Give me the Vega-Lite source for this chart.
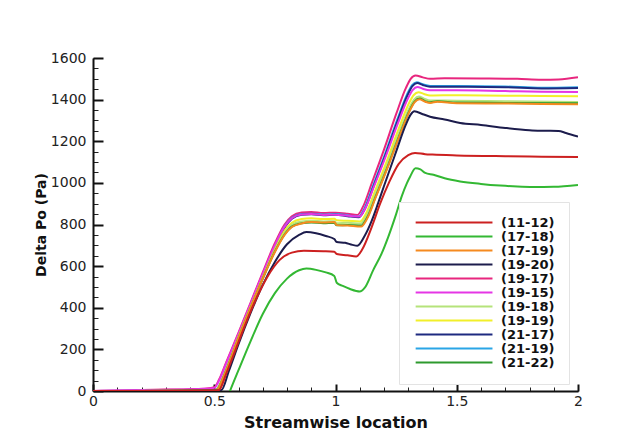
{
"$schema": "https://vega.github.io/schema/vega-lite/v6.json",
"width": 485, "height": 333,
"autosize": {"type": "none"},
"padding": {"left": 93, "top": 58, "right": 65, "bottom": 47},
"background": "white",
"config": {"view": {"stroke": null}, "font": "DejaVu Sans"},
"datasets": {
"curves": [
{"s":"(19-17)","x":0,"y":0},{"s":"(19-17)","x":0.1,"y":3},{"s":"(19-17)","x":0.2,"y":5},{"s":"(19-17)","x":0.3,"y":7},{"s":"(19-17)","x":0.4,"y":9},{"s":"(19-17)","x":0.47,"y":12},{"s":"(19-17)","x":0.5,"y":18},{"s":"(19-17)","x":0.52,"y":55},{"s":"(19-17)","x":0.55,"y":140},{"s":"(19-17)","x":0.6,"y":280},{"s":"(19-17)","x":0.65,"y":425},{"s":"(19-17)","x":0.7,"y":570},{"s":"(19-17)","x":0.75,"y":710},{"s":"(19-17)","x":0.79,"y":800},{"s":"(19-17)","x":0.82,"y":840},{"s":"(19-17)","x":0.86,"y":858},{"s":"(19-17)","x":0.9,"y":860},{"s":"(19-17)","x":0.95,"y":855},{"s":"(19-17)","x":1.0,"y":857},{"s":"(19-17)","x":1.05,"y":852},{"s":"(19-17)","x":1.09,"y":846},{"s":"(19-17)","x":1.114,"y":887},{"s":"(19-17)","x":1.15,"y":1000},{"s":"(19-17)","x":1.2,"y":1160},{"s":"(19-17)","x":1.25,"y":1330},{"s":"(19-17)","x":1.29,"y":1455},{"s":"(19-17)","x":1.31,"y":1500},{"s":"(19-17)","x":1.33,"y":1516},{"s":"(19-17)","x":1.36,"y":1507},{"s":"(19-17)","x":1.39,"y":1500},{"s":"(19-17)","x":1.45,"y":1503},{"s":"(19-17)","x":1.6,"y":1502},{"s":"(19-17)","x":1.75,"y":1500},{"s":"(19-17)","x":1.85,"y":1496},{"s":"(19-17)","x":1.92,"y":1497},{"s":"(19-17)","x":2.0,"y":1507},
{"s":"(21-19)","x":0,"y":0},{"s":"(21-19)","x":0.3,"y":2},{"s":"(21-19)","x":0.5,"y":3},{"s":"(21-19)","x":0.515,"y":15},{"s":"(21-19)","x":0.53,"y":50},{"s":"(21-19)","x":0.56,"y":140},{"s":"(21-19)","x":0.6,"y":265},{"s":"(21-19)","x":0.65,"y":410},{"s":"(21-19)","x":0.7,"y":555},{"s":"(21-19)","x":0.75,"y":695},{"s":"(21-19)","x":0.79,"y":790},{"s":"(21-19)","x":0.82,"y":832},{"s":"(21-19)","x":0.86,"y":850},{"s":"(21-19)","x":0.9,"y":852},{"s":"(21-19)","x":0.95,"y":848},{"s":"(21-19)","x":1.0,"y":850},{"s":"(21-19)","x":1.05,"y":844},{"s":"(21-19)","x":1.095,"y":838},{"s":"(21-19)","x":1.119,"y":877},{"s":"(21-19)","x":1.155,"y":987},{"s":"(21-19)","x":1.205,"y":1141},{"s":"(21-19)","x":1.255,"y":1305},{"s":"(21-19)","x":1.295,"y":1425},{"s":"(21-19)","x":1.315,"y":1469},{"s":"(21-19)","x":1.335,"y":1484},{"s":"(21-19)","x":1.36,"y":1474},{"s":"(21-19)","x":1.39,"y":1466},{"s":"(21-19)","x":1.5,"y":1466},{"s":"(21-19)","x":1.7,"y":1463},{"s":"(21-19)","x":1.85,"y":1457},{"s":"(21-19)","x":2.0,"y":1460},
{"s":"(21-17)","x":0,"y":0},{"s":"(21-17)","x":0.5,"y":2},{"s":"(21-17)","x":0.52,"y":12},{"s":"(21-17)","x":0.535,"y":50},{"s":"(21-17)","x":0.56,"y":125},{"s":"(21-17)","x":0.6,"y":250},{"s":"(21-17)","x":0.65,"y":400},{"s":"(21-17)","x":0.7,"y":545},{"s":"(21-17)","x":0.75,"y":688},{"s":"(21-17)","x":0.79,"y":785},{"s":"(21-17)","x":0.82,"y":828},{"s":"(21-17)","x":0.86,"y":847},{"s":"(21-17)","x":0.9,"y":849},{"s":"(21-17)","x":0.95,"y":845},{"s":"(21-17)","x":1.0,"y":847},{"s":"(21-17)","x":1.05,"y":840},{"s":"(21-17)","x":1.097,"y":835},{"s":"(21-17)","x":1.121,"y":874},{"s":"(21-17)","x":1.157,"y":983},{"s":"(21-17)","x":1.207,"y":1137},{"s":"(21-17)","x":1.257,"y":1301},{"s":"(21-17)","x":1.297,"y":1421},{"s":"(21-17)","x":1.317,"y":1465},{"s":"(21-17)","x":1.337,"y":1480},{"s":"(21-17)","x":1.36,"y":1470},{"s":"(21-17)","x":1.39,"y":1462},{"s":"(21-17)","x":1.5,"y":1462},{"s":"(21-17)","x":1.7,"y":1460},{"s":"(21-17)","x":1.85,"y":1454},{"s":"(21-17)","x":2.0,"y":1456},
{"s":"(19-15)","x":0,"y":0},{"s":"(19-15)","x":0.2,"y":4},{"s":"(19-15)","x":0.4,"y":8},{"s":"(19-15)","x":0.5,"y":15},{"s":"(19-15)","x":0.52,"y":50},{"s":"(19-15)","x":0.55,"y":135},{"s":"(19-15)","x":0.6,"y":275},{"s":"(19-15)","x":0.65,"y":420},{"s":"(19-15)","x":0.7,"y":563},{"s":"(19-15)","x":0.75,"y":700},{"s":"(19-15)","x":0.79,"y":790},{"s":"(19-15)","x":0.82,"y":830},{"s":"(19-15)","x":0.86,"y":848},{"s":"(19-15)","x":0.9,"y":850},{"s":"(19-15)","x":0.95,"y":846},{"s":"(19-15)","x":1.0,"y":847},{"s":"(19-15)","x":1.05,"y":842},{"s":"(19-15)","x":1.098,"y":838},{"s":"(19-15)","x":1.122,"y":876},{"s":"(19-15)","x":1.158,"y":981},{"s":"(19-15)","x":1.208,"y":1130},{"s":"(19-15)","x":1.258,"y":1288},{"s":"(19-15)","x":1.298,"y":1404},{"s":"(19-15)","x":1.318,"y":1446},{"s":"(19-15)","x":1.338,"y":1461},{"s":"(19-15)","x":1.36,"y":1452},{"s":"(19-15)","x":1.39,"y":1445},{"s":"(19-15)","x":1.5,"y":1445},{"s":"(19-15)","x":1.7,"y":1441},{"s":"(19-15)","x":1.85,"y":1438},{"s":"(19-15)","x":2.0,"y":1437},
{"s":"(19-19)","x":0,"y":0},{"s":"(19-19)","x":0.5,"y":3},{"s":"(19-19)","x":0.515,"y":12},{"s":"(19-19)","x":0.53,"y":48},{"s":"(19-19)","x":0.56,"y":135},{"s":"(19-19)","x":0.6,"y":260},{"s":"(19-19)","x":0.65,"y":405},{"s":"(19-19)","x":0.7,"y":545},{"s":"(19-19)","x":0.75,"y":680},{"s":"(19-19)","x":0.79,"y":770},{"s":"(19-19)","x":0.82,"y":808},{"s":"(19-19)","x":0.86,"y":826},{"s":"(19-19)","x":0.9,"y":830},{"s":"(19-19)","x":0.95,"y":826},{"s":"(19-19)","x":0.995,"y":828},{"s":"(19-19)","x":1.005,"y":820},{"s":"(19-19)","x":1.05,"y":818},{"s":"(19-19)","x":1.102,"y":815},{"s":"(19-19)","x":1.126,"y":853},{"s":"(19-19)","x":1.162,"y":958},{"s":"(19-19)","x":1.212,"y":1106},{"s":"(19-19)","x":1.262,"y":1264},{"s":"(19-19)","x":1.302,"y":1380},{"s":"(19-19)","x":1.322,"y":1421},{"s":"(19-19)","x":1.342,"y":1436},{"s":"(19-19)","x":1.365,"y":1427},{"s":"(19-19)","x":1.39,"y":1420},{"s":"(19-19)","x":1.5,"y":1421},{"s":"(19-19)","x":1.7,"y":1419},{"s":"(19-19)","x":1.85,"y":1417},{"s":"(19-19)","x":2.0,"y":1416},
{"s":"(19-18)","x":0,"y":0},{"s":"(19-18)","x":0.5,"y":3},{"s":"(19-18)","x":0.515,"y":12},{"s":"(19-18)","x":0.53,"y":46},{"s":"(19-18)","x":0.56,"y":132},{"s":"(19-18)","x":0.6,"y":258},{"s":"(19-18)","x":0.65,"y":402},{"s":"(19-18)","x":0.7,"y":542},{"s":"(19-18)","x":0.75,"y":675},{"s":"(19-18)","x":0.79,"y":760},{"s":"(19-18)","x":0.82,"y":798},{"s":"(19-18)","x":0.86,"y":815},{"s":"(19-18)","x":0.9,"y":818},{"s":"(19-18)","x":0.95,"y":815},{"s":"(19-18)","x":0.995,"y":816},{"s":"(19-18)","x":1.005,"y":806},{"s":"(19-18)","x":1.05,"y":808},{"s":"(19-18)","x":1.104,"y":805},{"s":"(19-18)","x":1.128,"y":842},{"s":"(19-18)","x":1.164,"y":945},{"s":"(19-18)","x":1.214,"y":1091},{"s":"(19-18)","x":1.264,"y":1246},{"s":"(19-18)","x":1.304,"y":1359},{"s":"(19-18)","x":1.324,"y":1400},{"s":"(19-18)","x":1.344,"y":1415},{"s":"(19-18)","x":1.365,"y":1405},{"s":"(19-18)","x":1.39,"y":1396},{"s":"(19-18)","x":1.5,"y":1395},{"s":"(19-18)","x":1.7,"y":1392},{"s":"(19-18)","x":2.0,"y":1389},
{"s":"(21-22)","x":0,"y":0},{"s":"(21-22)","x":0.5,"y":2},{"s":"(21-22)","x":0.515,"y":10},{"s":"(21-22)","x":0.53,"y":45},{"s":"(21-22)","x":0.56,"y":130},{"s":"(21-22)","x":0.6,"y":255},{"s":"(21-22)","x":0.65,"y":400},{"s":"(21-22)","x":0.7,"y":540},{"s":"(21-22)","x":0.75,"y":670},{"s":"(21-22)","x":0.79,"y":752},{"s":"(21-22)","x":0.82,"y":790},{"s":"(21-22)","x":0.86,"y":806},{"s":"(21-22)","x":0.9,"y":810},{"s":"(21-22)","x":0.95,"y":806},{"s":"(21-22)","x":0.995,"y":808},{"s":"(21-22)","x":1.005,"y":796},{"s":"(21-22)","x":1.05,"y":797},{"s":"(21-22)","x":1.106,"y":795},{"s":"(21-22)","x":1.13,"y":832},{"s":"(21-22)","x":1.166,"y":935},{"s":"(21-22)","x":1.216,"y":1081},{"s":"(21-22)","x":1.266,"y":1236},{"s":"(21-22)","x":1.306,"y":1349},{"s":"(21-22)","x":1.326,"y":1390},{"s":"(21-22)","x":1.346,"y":1405},{"s":"(21-22)","x":1.37,"y":1393},{"s":"(21-22)","x":1.39,"y":1387},{"s":"(21-22)","x":1.42,"y":1392},{"s":"(21-22)","x":1.5,"y":1386},{"s":"(21-22)","x":1.7,"y":1384},{"s":"(21-22)","x":2.0,"y":1383},
{"s":"(17-19)","x":0,"y":0},{"s":"(17-19)","x":0.5,"y":2},{"s":"(17-19)","x":0.515,"y":10},{"s":"(17-19)","x":0.53,"y":45},{"s":"(17-19)","x":0.56,"y":130},{"s":"(17-19)","x":0.6,"y":255},{"s":"(17-19)","x":0.65,"y":400},{"s":"(17-19)","x":0.7,"y":540},{"s":"(17-19)","x":0.75,"y":668},{"s":"(17-19)","x":0.79,"y":750},{"s":"(17-19)","x":0.82,"y":788},{"s":"(17-19)","x":0.86,"y":805},{"s":"(17-19)","x":0.9,"y":812},{"s":"(17-19)","x":0.95,"y":810},{"s":"(17-19)","x":0.995,"y":812},{"s":"(17-19)","x":1.005,"y":797},{"s":"(17-19)","x":1.05,"y":795},{"s":"(17-19)","x":1.106,"y":790},{"s":"(17-19)","x":1.13,"y":827},{"s":"(17-19)","x":1.166,"y":931},{"s":"(17-19)","x":1.216,"y":1077},{"s":"(17-19)","x":1.266,"y":1232},{"s":"(17-19)","x":1.306,"y":1346},{"s":"(17-19)","x":1.326,"y":1387},{"s":"(17-19)","x":1.346,"y":1402},{"s":"(17-19)","x":1.37,"y":1390},{"s":"(17-19)","x":1.39,"y":1384},{"s":"(17-19)","x":1.42,"y":1390},{"s":"(17-19)","x":1.5,"y":1383},{"s":"(17-19)","x":1.7,"y":1381},{"s":"(17-19)","x":2.0,"y":1378},
{"s":"(19-20)","x":0,"y":0},{"s":"(19-20)","x":0.5,"y":2},{"s":"(19-20)","x":0.53,"y":5},{"s":"(19-20)","x":0.56,"y":95},{"s":"(19-20)","x":0.6,"y":225},{"s":"(19-20)","x":0.65,"y":375},{"s":"(19-20)","x":0.7,"y":510},{"s":"(19-20)","x":0.75,"y":620},{"s":"(19-20)","x":0.8,"y":705},{"s":"(19-20)","x":0.85,"y":750},{"s":"(19-20)","x":0.88,"y":764},{"s":"(19-20)","x":0.92,"y":758},{"s":"(19-20)","x":0.96,"y":745},{"s":"(19-20)","x":0.995,"y":730},{"s":"(19-20)","x":1.005,"y":716},{"s":"(19-20)","x":1.04,"y":712},{"s":"(19-20)","x":1.07,"y":702},{"s":"(19-20)","x":1.09,"y":698},{"s":"(19-20)","x":1.12,"y":745},{"s":"(19-20)","x":1.15,"y":820},{"s":"(19-20)","x":1.175,"y":900},{"s":"(19-20)","x":1.2,"y":985},{"s":"(19-20)","x":1.25,"y":1150},{"s":"(19-20)","x":1.29,"y":1280},{"s":"(19-20)","x":1.31,"y":1328},{"s":"(19-20)","x":1.325,"y":1344},{"s":"(19-20)","x":1.36,"y":1330},{"s":"(19-20)","x":1.39,"y":1318},{"s":"(19-20)","x":1.45,"y":1305},{"s":"(19-20)","x":1.514,"y":1288},{"s":"(19-20)","x":1.6,"y":1278},{"s":"(19-20)","x":1.7,"y":1264},{"s":"(19-20)","x":1.8,"y":1253},{"s":"(19-20)","x":1.85,"y":1250},{"s":"(19-20)","x":1.886,"y":1250},{"s":"(19-20)","x":1.92,"y":1249},{"s":"(19-20)","x":1.95,"y":1240},{"s":"(19-20)","x":2.0,"y":1222},
{"s":"(11-12)","x":0,"y":0},{"s":"(11-12)","x":0.5,"y":2},{"s":"(11-12)","x":0.52,"y":5},{"s":"(11-12)","x":0.55,"y":85},{"s":"(11-12)","x":0.6,"y":235},{"s":"(11-12)","x":0.63,"y":325},{"s":"(11-12)","x":0.67,"y":435},{"s":"(11-12)","x":0.72,"y":550},{"s":"(11-12)","x":0.77,"y":630},{"s":"(11-12)","x":0.82,"y":665},{"s":"(11-12)","x":0.87,"y":674},{"s":"(11-12)","x":0.95,"y":672},{"s":"(11-12)","x":0.995,"y":669},{"s":"(11-12)","x":1.005,"y":658},{"s":"(11-12)","x":1.05,"y":652},{"s":"(11-12)","x":1.085,"y":646},{"s":"(11-12)","x":1.11,"y":680},{"s":"(11-12)","x":1.15,"y":790},{"s":"(11-12)","x":1.184,"y":900},{"s":"(11-12)","x":1.22,"y":1000},{"s":"(11-12)","x":1.26,"y":1090},{"s":"(11-12)","x":1.3,"y":1133},{"s":"(11-12)","x":1.328,"y":1144},{"s":"(11-12)","x":1.37,"y":1138},{"s":"(11-12)","x":1.4,"y":1136},{"s":"(11-12)","x":1.5,"y":1132},{"s":"(11-12)","x":1.7,"y":1128},{"s":"(11-12)","x":1.85,"y":1126},{"s":"(11-12)","x":2.0,"y":1124},
{"s":"(17-18)","x":0.555,"y":-30},{"s":"(17-18)","x":0.565,"y":0},{"s":"(17-18)","x":0.6,"y":100},{"s":"(17-18)","x":0.65,"y":240},{"s":"(17-18)","x":0.7,"y":370},{"s":"(17-18)","x":0.75,"y":470},{"s":"(17-18)","x":0.8,"y":540},{"s":"(17-18)","x":0.85,"y":580},{"s":"(17-18)","x":0.88,"y":588},{"s":"(17-18)","x":0.92,"y":582},{"s":"(17-18)","x":0.96,"y":570},{"s":"(17-18)","x":0.995,"y":553},{"s":"(17-18)","x":1.005,"y":520},{"s":"(17-18)","x":1.03,"y":505},{"s":"(17-18)","x":1.06,"y":490},{"s":"(17-18)","x":1.1,"y":478},{"s":"(17-18)","x":1.12,"y":495},{"s":"(17-18)","x":1.156,"y":582},{"s":"(17-18)","x":1.19,"y":660},{"s":"(17-18)","x":1.218,"y":742},{"s":"(17-18)","x":1.25,"y":850},{"s":"(17-18)","x":1.273,"y":935},{"s":"(17-18)","x":1.295,"y":1000},{"s":"(17-18)","x":1.308,"y":1031},{"s":"(17-18)","x":1.33,"y":1070},{"s":"(17-18)","x":1.35,"y":1065},{"s":"(17-18)","x":1.37,"y":1048},{"s":"(17-18)","x":1.404,"y":1039},{"s":"(17-18)","x":1.45,"y":1022},{"s":"(17-18)","x":1.514,"y":1007},{"s":"(17-18)","x":1.6,"y":995},{"s":"(17-18)","x":1.679,"y":987},{"s":"(17-18)","x":1.75,"y":982},{"s":"(17-18)","x":1.816,"y":980},{"s":"(17-18)","x":1.9,"y":981},{"s":"(17-18)","x":2.0,"y":990}
]},
"data": {"name": "curves"},
"layer": [
{
"mark": {"type": "point", "opacity": 0},
"encoding": {
"x": {"field": "x", "type": "quantitative", "scale": {"domain": [0, 2], "nice": false},
 "axis": {"orient": "bottom", "values": [0,0.1,0.2,0.3,0.4,0.5,0.6,0.7,0.8,0.9,1,1.1,1.2,1.3,1.4,1.5,1.6,1.7,1.8,1.9,2], "labels": false, "domain": false, "grid": false, "title": null, "tickSize": -4, "tickColor": "#222", "tickWidth": 1}},
"y": {"field": "y", "type": "quantitative", "scale": {"domain": [0, 1600], "nice": false},
 "axis": {"orient": "left", "values": [0,50,100,150,200,250,300,350,400,450,500,550,600,650,700,750,800,850,900,950,1000,1050,1100,1150,1200,1250,1300,1350,1400,1450,1500,1550,1600], "labels": false, "domain": false, "grid": false, "title": null, "tickSize": -5, "tickColor": "#222", "tickWidth": 1}}
}
},
{
"mark": {"type": "line", "strokeWidth": 2, "clip": true, "interpolate": "monotone"},
"encoding": {
"x": {"field": "x", "type": "quantitative", "scale": {"domain": [0, 2], "nice": false},
 "axis": {"orient": "bottom", "values": [0, 0.5, 1, 1.5, 2], "format": ".1~f", "grid": false, "title": "Streamwise location",
  "domainColor": "#111", "domainWidth": 2, "tickColor": "#111", "tickWidth": 2, "tickSize": -7, "labelPadding": 10,
  "labelFlush": false, "labelOverlap": false, "labelFont": "DejaVu Sans", "labelFontSize": 14, "labelColor": "#222",
  "titleFont": "DejaVu Sans", "titleFontSize": 16, "titleFontWeight": "bold", "titleColor": "#111", "titlePadding": 6}},
"y": {"field": "y", "type": "quantitative", "scale": {"domain": [0, 1600], "nice": false},
 "axis": {"orient": "left", "values": [0,200,400,600,800,1000,1200,1400,1600], "format": "d", "grid": false, "title": "Delta Po (Pa)",
  "domainColor": "#111", "domainWidth": 2, "tickColor": "#111", "tickWidth": 2, "tickSize": -10, "labelPadding": 17,
  "labelFlush": false, "labelOverlap": false, "labelFont": "DejaVu Sans", "labelFontSize": 14, "labelColor": "#222",
  "titleFont": "DejaVu Sans", "titleFontSize": 14, "titleFontWeight": "bold", "titleColor": "#111", "titlePadding": 2}},
"color": {"field": "s", "type": "nominal",
 "scale": {"domain": ["(11-12)","(17-18)","(17-19)","(19-20)","(19-17)","(19-15)","(19-18)","(19-19)","(21-17)","(21-19)","(21-22)"],
  "range": ["#cc2020","#33b833","#f58a1f","#1c1c4c","#e8267e","#e536e5","#b5e37a","#f2ef2a","#1e2a80","#2aa5e6","#2e9a2e"]},
 "legend": {"orient": "none", "legendX": 306, "legendY": 144, "title": null, "symbolType": "M-1,0H19", "symbolSize": 59, "symbolStrokeWidth": 2,
  "labelFont": "DejaVu Sans", "labelFontSize": 13, "labelFontWeight": "bold", "labelColor": "#111", "labelOffset": 75,
  "padding": 14, "rowPadding": 0, "strokeColor": "#e3e3e3", "fillColor": "white"}}
}
}
],
"resolve": {"axis": {"x": "independent", "y": "independent"}}
}
